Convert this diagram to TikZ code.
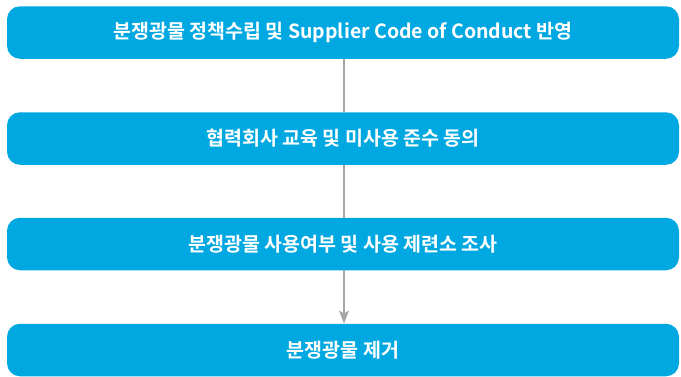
\documentclass[tikz,border=0pt]{standalone}
\usepackage{fontspec}
\setmainfont{Noto Sans CJK KR}[BoldFont={Noto Sans CJK KR Bold}]
\usetikzlibrary{arrows.meta}
\definecolor{boxblue}{HTML}{00A8E1}
\definecolor{linegray}{HTML}{A6A6A8}
\tikzset{
  stepbox/.style={fill=boxblue, draw=none, rounded corners=13pt, minimum width=672pt, minimum height=52.5pt, text=white, font=\bfseries\fontsize{19.5pt}{22pt}\selectfont, inner sep=0pt},
  conn/.style={draw=linegray, line width=1.3pt},
}
\begin{document}
\begin{tikzpicture}[x=1pt,y=-1pt]
\useasboundingbox (0,0) rectangle (681,376);
\node[stepbox] (b1) at (343,32.5) {분쟁광물 정책수립 및 Supplier Code of Conduct 반영};
\node[stepbox] (b2) at (343,138.5) {협력회사 교육 및 미사용 준수 동의};
\node[stepbox] (b3) at (343,244) {분쟁광물 사용여부 및 사용 제련소 조사};
\node[stepbox] (b4) at (343,350) {분쟁광물 제거};
\draw[conn] (b1.south) ++(1,0) coordinate (c1) -- (c1 |- b2.north);
\draw[conn] (b2.south) ++(1,0) coordinate (c2) -- (c2 |- b3.north);
\draw[conn, -{Stealth[length=13pt,width=10pt,inset=3pt]}] (b3.south) ++(1,0) coordinate (c3) -- (c3 |- b4.north);
\end{tikzpicture}
\end{document}
